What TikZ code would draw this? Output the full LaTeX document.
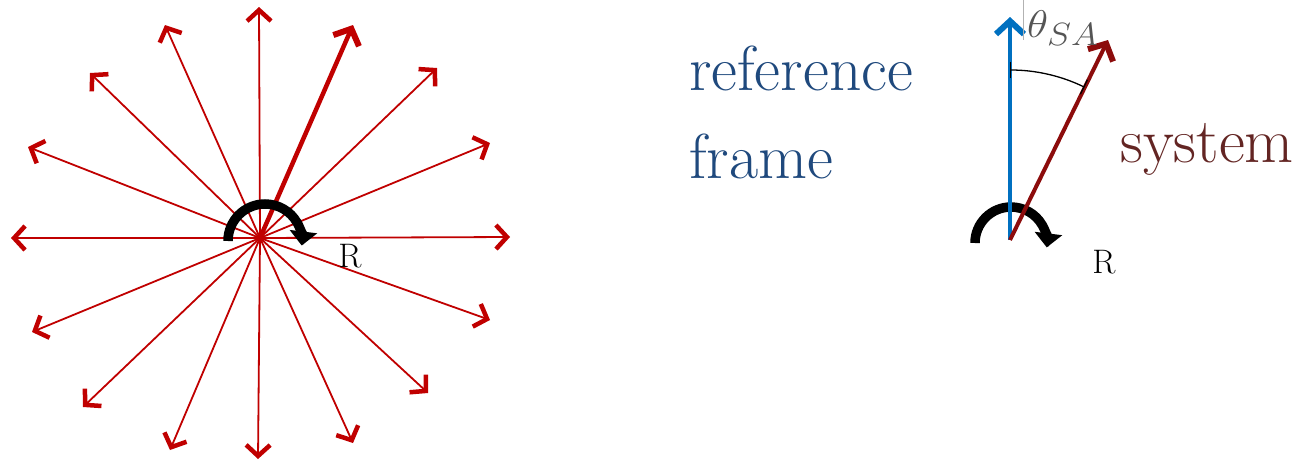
\documentclass[tikz,border=0pt]{standalone}
\usepackage{graphicx}
\usetikzlibrary{arrows.meta}
\definecolor{starred}{RGB}{192,0,0}
\definecolor{sysarrow}{RGB}{140,12,12}
\definecolor{refblue}{RGB}{0,112,192}
\definecolor{reftext}{RGB}{31,73,125}
\definecolor{systext}{RGB}{99,37,35}
\definecolor{labgray}{RGB}{85,85,85}
\tikzset{
  thinray/.style={draw=starred, line width=1.8pt,
    -{Straight Barb[length=11pt,width=24pt,line width=4.5pt]}},
  thickray/.style={draw=starred, line width=4.5pt,
    -{Straight Barb[length=13pt,width=28pt,line width=6pt]}},
  frameray/.style={line width=4.5pt,
    -{Straight Barb[length=13pt,width=28pt,line width=6pt]}},
  rotarrow/.style={draw=black, line width=9.5pt,
    -{Triangle[length=14pt,width=27pt]}},
  bigtext/.style={font=\fontsize{63.5}{70}\selectfont, inner sep=0pt, anchor=base west},
  rlabel/.style={font=\fontsize{34}{38}\selectfont, inner sep=0pt},
}
\begin{document}
\begin{tikzpicture}[x=1pt,y=-1pt]
\useasboundingbox (0,0) rectangle (1295,461);

% ---------- left: star of rays ----------
\coordinate (c) at (260,238);
\coordinate (ra) at (259,7);
\coordinate (rb) at (165,25);
\coordinate (rd) at (90,73);
\coordinate (re) at (28,147);
\coordinate (rf) at (11,238);
\coordinate (rg) at (32,332);
\coordinate (rh) at (83,407);
\coordinate (ri) at (170,450);
\coordinate (rj) at (258,459);
\coordinate (rk) at (353,443);
\coordinate (rl) at (428,393);
\coordinate (rm) at (490,320);
\coordinate (rn) at (510,237);
\coordinate (ro) at (490,143);
\coordinate (rq) at (437,68);
\foreach \n in {ra,rb,rd,re,rf,rg,rh,ri,rj,rk,rl,rm,rn,ro,rq} {
  \draw[thinray] (c) -- (\n);
}
\coordinate (thick) at (353,25);
\draw[thickray] (c) -- (thick);

\coordinate (rotL) at (228,241);
\draw[rotarrow] (rotL) arc[start angle=180, end angle=367, radius=37];
\node[rlabel] (R1) at (350,256) {R};

% ---------- right: reference frame and system ----------
\node[bigtext, text=reftext] (ref) at (689,90) {reference};
\node[bigtext, text=reftext] (frm) at (689,178) {frame};
\node[bigtext, text=systext] (sys) at (1120,162) {system};

\coordinate (o2) at (1010,240);
\coordinate (bluetip) at (1010,17);
\coordinate (redtip) at (1108,40);

\coordinate (rotR) at (975,243);
\draw[rotarrow] (rotR) arc[start angle=180, end angle=367, radius=36];

\draw[frameray, draw=refblue] (o2) -- (bluetip);
\draw[frameray, draw=sysarrow, line width=4pt] (o2) -- (redtip);

\coordinate (angA) at (1010,70);
\draw[line width=1.3pt, {Bar[width=16pt]}-{Bar[width=16pt]}]
  (angA) arc[start angle=270, end angle=296, radius=170];

\coordinate (curT) at (1023,0);
\coordinate (curB) at (1023,40);
\draw[gray!60, line width=0.8pt] (curT) -- (curB);
\node[inner sep=0pt, anchor=base west, text=labgray,
      font=\fontsize{24.88}{28}\selectfont] (theta) at (1027,37)
  {\scalebox{1.75}[1.55]{$\theta_{SA}$}};

\node[rlabel] (R2) at (1104,262) {R};
\end{tikzpicture}
\end{document}
